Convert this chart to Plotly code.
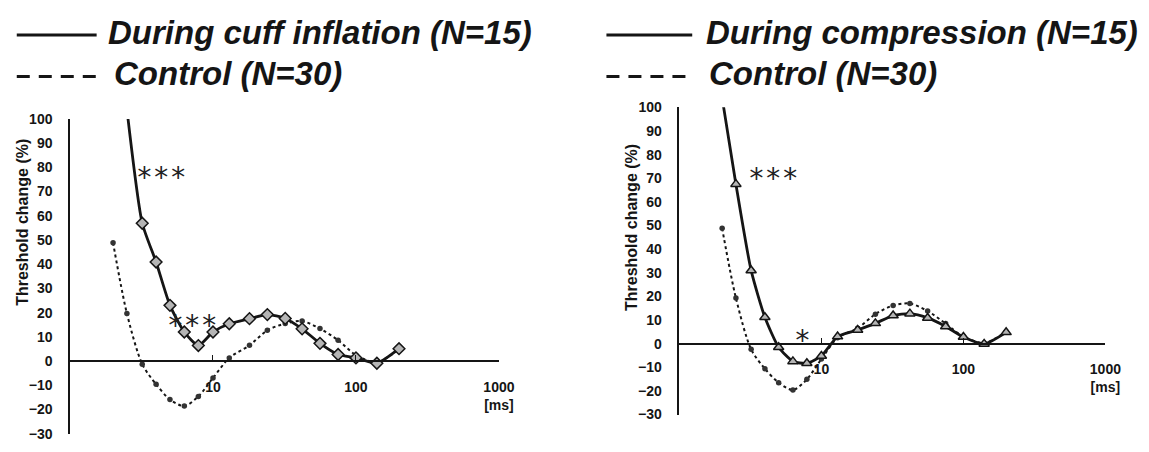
import plotly.graph_objects as go

# ---------------- data ----------------
intervals_ms = [2, 2.5, 3.2, 4, 5, 6.3, 7.9, 10, 13, 18, 24, 32, 42, 56, 75, 100, 140, 200]

cuff_inflation = [None, 104, 56.9, 40.9, 23.0, 12.0, 6.4, 12.0, 15.4, 17.5, 19.2, 17.6,
                  13.3, 7.3, 2.7, 1.3, -0.9, 5.1]
control_left = [48.9, 19.6, -1.3, -9.6, -15.9, -18.6, -14.6, -7.0, 1.3, 6.5, 12.7, 15.5,
                16.5, 13.4, 8.6, 2.4, -0.5, 5.0]

compression = [104, 67.5, 31.0, 11.2, -1.5, -7.5, -8.3, -5.2, 3.0, 5.8, 8.6, 11.9,
               12.7, 10.9, 7.3, 2.8, -0.1, 4.8]
control_right = [48.8, 19.3, -2.4, -10.6, -16.5, -19.6, -15.1, -6.5, 2.5, 6.5, 12.5, 16.2,
                 17.0, 13.8, 8.5, 3.0, 0.3, 5.0]

x_tickvals = [10, 100, 1000]
x_ticktext = ["10", "100", "1000<br>[ms]"]
y_title = "Threshold change (%)"

legend_left = ["During cuff inflation (N=15)", "Control (N=30)"]
legend_right = ["During compression (N=15)", "Control (N=30)"]

# ---------------- geometry helpers ----------------
W, H = 1149, 452
def px(x):
    return x / W
def py(y):
    return 1 - y / H

INK = "#151515"
TICKFONT = dict(family="Liberation Sans, Arial, sans-serif", size=14, color=INK, weight="bold")
TITLEFONT = dict(family="Liberation Sans, Arial, sans-serif", size=16, color=INK, weight="bold")
LEGFONT = dict(family="Liberation Sans, Arial, sans-serif", size=33, color=INK)
STARFONT = dict(family="DejaVu Sans Mono, monospace", size=28, color="#222")

fig = go.Figure()

# ---- left panel ----
fig.add_trace(go.Scatter(
    x=intervals_ms, y=control_left, xaxis="x", yaxis="y", mode="lines+markers",
    line=dict(color=INK, width=2, dash="dot", shape="spline", smoothing=0.8),
    marker=dict(symbol="circle", size=5.5, color="#333"), showlegend=False,
    name=legend_left[1]))
fig.add_trace(go.Scatter(
    x=intervals_ms, y=cuff_inflation, xaxis="x", yaxis="y", mode="lines+markers",
    line=dict(color=INK, width=2.8, shape="spline", smoothing=0.6),
    marker=dict(symbol="diamond", size=9, color="#b5b5b5", line=dict(color=INK, width=1.5)),
    showlegend=False, name=legend_left[0]))

# ---- right panel ----
fig.add_trace(go.Scatter(
    x=intervals_ms, y=control_right, xaxis="x2", yaxis="y2", mode="lines+markers",
    line=dict(color=INK, width=2, dash="dot", shape="spline", smoothing=0.8),
    marker=dict(symbol="circle", size=5.5, color="#333"), showlegend=False,
    name=legend_right[1]))
fig.add_trace(go.Scatter(
    x=intervals_ms, y=compression, xaxis="x2", yaxis="y2", mode="lines+markers",
    line=dict(color=INK, width=2.8, shape="spline", smoothing=0.6),
    marker=dict(symbol="triangle-up", size=9, color="#b5b5b5", line=dict(color=INK, width=1.5)),
    showlegend=False, name=legend_right[0]))

# ---- axes ----
left_y_dom = [py(441.3), py(115)]
right_y_dom = [py(421.5), py(103)]

def zero_pos(dom):
    return dom[0] + (0 - (-30)) / 130 * (dom[1] - dom[0])

xcommon = dict(type="log", range=[0, 3], anchor="free", showline=True, linecolor=INK,
               linewidth=1.5, tickvals=x_tickvals, ticktext=x_ticktext, ticks="inside",
               ticklen=5, tickcolor=INK, showgrid=False, zeroline=False, tickfont=TICKFONT,
               ticklabelstandoff=13)
ycommon = dict(range=[-30, 100], dtick=10, tick0=0, showline=True, linecolor=INK,
               linewidth=1.5, showgrid=False, zeroline=False, ticks="", tickfont=TICKFONT,
               ticklabelstandoff=13)

fig.update_layout(
    width=W, height=H, margin=dict(l=0, r=0, t=0, b=0),
    paper_bgcolor="white", plot_bgcolor="white",
    xaxis=dict(domain=[px(71), px(506)], position=zero_pos(left_y_dom), **xcommon),
    yaxis=dict(domain=left_y_dom, anchor="x", **ycommon),
    xaxis2=dict(domain=[px(689), px(1121)], position=zero_pos(right_y_dom), **xcommon),
    yaxis2=dict(domain=right_y_dom, anchor="x2", **ycommon),
)

# ---- y-axis titles (placed like the original, above the axis middle) ----
for tx, ty in [(22, 222), (641, 228)]:
    fig.add_annotation(xref="paper", yref="paper", x=px(tx), y=py(ty), text=y_title,
                       textangle=-90, showarrow=False, xanchor="center", yanchor="middle",
                       font=TITLEFONT)

# ---- significance marks (data coordinates; log axis uses log10 values) ----
stars = [
    ("x", "y", 0.641, 78.9, "***"),
    ("x", "y", 0.855, 17.5, "***"),
    ("x2", "y2", 0.66, 72.7, "***"),
    ("x2", "y2", 0.868, 4.1, "*"),
]
for xr, yr, xv, yv, t in stars:
    fig.add_annotation(xref=xr, yref=yr, x=xv, y=yv, text=t, showarrow=False,
                       font=STARFONT, xanchor="center", yanchor="middle", yshift=-7)

# ---- hand-drawn style legends ----
legend_rows = [
    (17, 98, 28, "solid", 108, 25, legend_left[0]),
    (17, 98, 71, "13px,9px", 114, 68, legend_left[1]),
    (615, 702, 28, "solid", 714, 25, legend_right[0]),
    (615, 702, 71, "13px,9px", 717, 68, legend_right[1]),
]
for x0, x1, yl, dash, tx, ty, text in legend_rows:
    fig.add_shape(type="line", xref="paper", yref="paper", x0=px(x0), x1=px(x1),
                  y0=py(yl), y1=py(yl), line=dict(color=INK, width=3, dash=dash))
    fig.add_annotation(xref="paper", yref="paper", x=px(tx), y=py(ty), text=f"<b><i>{text}</i></b>",
                       showarrow=False, xanchor="left", yanchor="middle", font=LEGFONT)

fig.write_html("out.html")
